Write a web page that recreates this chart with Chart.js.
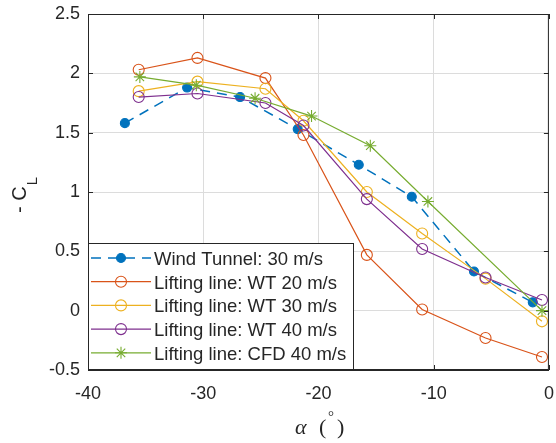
<!DOCTYPE html>
<html lang="en">
<head>
  <meta charset="UTF-8" />
  <title>Lift coefficient vs angle of attack</title>
  <script src="https://cdn.jsdelivr.net/npm/chart.js"></script>
  <style>
    body { margin: 0; background: #fff; }
    #wrap { width: 556px; height: 443px; }
  </style>
</head>
<body>
  <div id="wrap"><canvas id="clChart" width="556" height="443"></canvas></div>

  <script>
    // angle of attack (deg) and -CL
    const alphaWindTunnel = [-36.8, -31.4, -26.8, -21.8, -16.5, -11.9, -6.5, -1.4];
    const clWindTunnel    = [1.58, 1.88, 1.80, 1.53, 1.23, 0.96, 0.33, 0.07];

    const alphaLiftingLine = [-35.6, -30.5, -24.6, -21.3, -15.8, -11.0, -5.5, -0.6];
    const clWT20 = [2.03, 2.13, 1.96, 1.48, 0.47, 0.01, -0.23, -0.39];
    const clWT30 = [1.85, 1.93, 1.87, 1.60, 1.00, 0.65, 0.27, -0.09];
    const clWT40 = [1.80, 1.83, 1.75, 1.56, 0.94, 0.52, 0.28, 0.09];

    const alphaCFD = [-35.5, -30.6, -25.5, -20.6, -15.5, -10.5, -0.6];
    const clCFD40  = [1.97, 1.90, 1.79, 1.64, 1.39, 0.92, 0.00];

    const seriesLabels = [
      'Wind Tunnel: 30 m/s',
      'Lifting line: WT 20 m/s',
      'Lifting line: WT 30 m/s',
      'Lifting line: WT 40 m/s',
      'Lifting line: CFD 40 m/s'
    ];
    const xTicks = [-40, -30, -20, -10, 0];
    const yTicks = [-0.5, 0, 0.5, 1, 1.5, 2, 2.5];

    const toPoints = (xs, ys) => xs.map((x, i) => ({ x: x, y: ys[i] }));
    const textColor = '#262626';
    const sans = '"Liberation Sans", Arial, sans-serif';

    function series(i, xs, ys, color, extra) {
      return Object.assign({
        label: seriesLabels[i],
        data: toPoints(xs, ys),
        borderColor: color,
        borderWidth: 1.2,
        pointStyle: 'circle',
        pointRadius: 5.5,
        pointBorderWidth: 1.1,
        pointBorderColor: color,
        pointBackgroundColor: 'transparent',
        tension: 0,
        clip: false,
        order: 4 - i
      }, extra);
    }

    const datasets = [
      series(0, alphaWindTunnel, clWindTunnel, '#0072BD', {
        borderDash: [10, 7], borderWidth: 1.5, pointRadius: 4.5,
        pointBackgroundColor: '#0072BD'
      }),
      series(1, alphaLiftingLine, clWT20, '#D95319'),
      series(2, alphaLiftingLine, clWT30, '#EDB120'),
      series(3, alphaLiftingLine, clWT40, '#7E2F8E'),
      series(4, alphaCFD, clCFD40, '#77AC30', { pointStyle: 'star', pointRadius: 6 })
    ];

    // box, inward ticks, legend inside the axes and the two axis labels
    const framePlugin = {
      id: 'frame',
      afterDraw(chart) {
        const ctx = chart.ctx;
        const a = chart.chartArea;
        const sx = chart.scales.x, sy = chart.scales.y;
        ctx.save();
        ctx.strokeStyle = textColor;
        ctx.lineWidth = 1;
        ctx.strokeRect(a.left + 0.5, a.top + 0.5, a.width - 1, a.height - 1);
        ctx.beginPath();
        xTicks.forEach(v => {
          const px = Math.round(sx.getPixelForValue(v)) + 0.5;
          ctx.moveTo(px, a.bottom); ctx.lineTo(px, a.bottom - 5);
          ctx.moveTo(px, a.top); ctx.lineTo(px, a.top + 5);
        });
        yTicks.forEach(v => {
          const py = Math.round(sy.getPixelForValue(v)) + 0.5;
          ctx.moveTo(a.left, py); ctx.lineTo(a.left + 5, py);
          ctx.moveTo(a.right, py); ctx.lineTo(a.right - 5, py);
        });
        ctx.stroke();

        // legend
        const lx = a.left, ly = 243, lw = 265, lh = a.bottom - 243;
        ctx.fillStyle = '#fff';
        ctx.fillRect(lx, ly, lw, lh);
        ctx.strokeRect(lx + 0.5, ly + 0.5, lw, lh - 1);
        chart.data.datasets.forEach((ds, i) => {
          const y = ly + 15 + i * 23.7;
          ctx.save();
          ctx.strokeStyle = ds.borderColor;
          ctx.lineWidth = ds.borderWidth;
          ctx.setLineDash(ds.borderDash || []);
          ctx.beginPath();
          ctx.moveTo(lx + 3, y); ctx.lineTo(lx + 63, y);
          ctx.stroke();
          ctx.setLineDash([]);
          ctx.fillStyle = ds.pointBackgroundColor;
          ctx.strokeStyle = ds.pointBorderColor;
          ctx.lineWidth = ds.pointBorderWidth;
          Chart.helpers.drawPoint(ctx, {
            pointStyle: ds.pointStyle, rotation: 0,
            radius: ds.pointRadius, borderWidth: ds.pointBorderWidth
          }, lx + 33, y);
          ctx.restore();
          ctx.fillStyle = textColor;
          ctx.font = '18.5px ' + sans;
          ctx.textBaseline = 'middle';
          ctx.textAlign = 'left';
          ctx.fillText(ds.label, lx + 66, y + 2);
        });

        // x label: alpha (deg)
        ctx.fillStyle = textColor;
        ctx.textBaseline = 'alphabetic';
        ctx.textAlign = 'left';
        const yb = 434;
        ctx.font = 'italic 22px "Liberation Serif", serif';
        ctx.fillText('α', 295, yb);
        ctx.font = '22px "Liberation Serif", serif';
        ctx.fillText('(', 319, yb);
        ctx.fillText(')', 337, yb);
        ctx.font = '15px "Liberation Serif", serif';
        ctx.fillText('°', 328, yb - 13);

        // y label: - C_L
        ctx.translate(26, 213);
        ctx.rotate(-Math.PI / 2);
        ctx.font = '20px ' + sans;
        ctx.fillText('- C', 0, 0);
        const w = ctx.measureText('- C').width;
        ctx.font = '15px ' + sans;
        ctx.fillText('L', w + 1, 11);
        ctx.restore();
      }
    };

    const ctx = document.getElementById('clChart').getContext('2d');
    new Chart(ctx, {
      type: 'line',
      data: { datasets: datasets },
      plugins: [framePlugin],
      options: {
        responsive: false,
        animation: false,
        layout: { padding: { top: 14, right: 3, left: 0, bottom: 0 } },
        plugins: { legend: { display: false }, tooltip: { enabled: false } },
        scales: {
          x: {
            type: 'linear', min: -40, max: 0,
            afterBuildTicks: s => { s.ticks = xTicks.map(v => ({ value: v })); },
            ticks: { padding: 13, color: textColor, font: { size: 18, family: sans } },
            grid: { color: '#dcdcdc', drawTicks: false },
            border: { display: true, color: textColor },
            afterFit: s => { s.height = 73; s.paddingLeft = 0; s.paddingRight = 0; }
          },
          y: {
            type: 'linear', min: -0.5, max: 2.5,
            afterBuildTicks: s => { s.ticks = yTicks.map(v => ({ value: v })); },
            ticks: {
              padding: 8, color: textColor, font: { size: 18, family: sans },
              callback: v => String(v)
            },
            grid: { color: '#dcdcdc', drawTicks: false },
            border: { display: true, color: textColor },
            afterFit: s => { s.width = 88; s.paddingTop = 0; s.paddingBottom = 0; }
          }
        }
      }
    });
  </script>
</body>
</html>
